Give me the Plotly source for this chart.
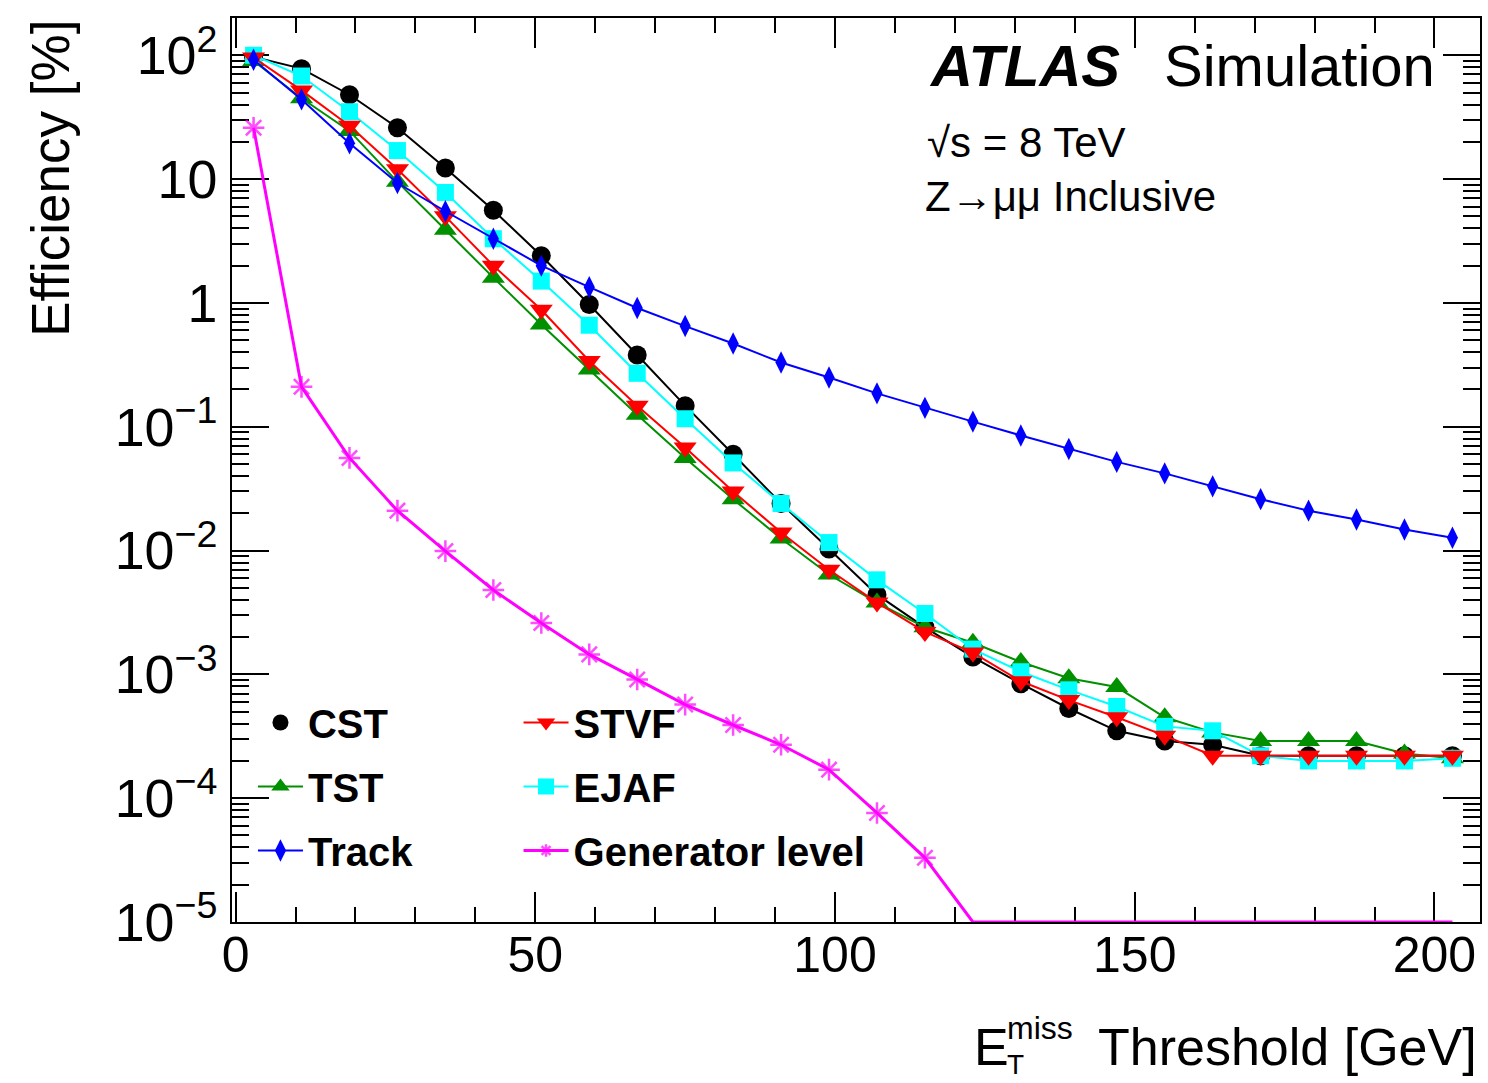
import plotly.graph_objects as go
import math

# ---------------- data ----------------
threshold = [3, 11, 19, 27, 35, 43, 51, 59, 67, 75, 83, 91, 99, 107, 115,
             123, 131, 139, 147, 155, 163, 171, 179, 187, 195, 203]

cst = [97, 78, 48, 26, 12.3, 5.6, 2.4, 0.97, 0.38, 0.148, 0.060, 0.024, 0.0103,
       0.0044, 0.0024, 0.00138, 0.00084, 0.00053, 0.00035, 0.00029, 0.00027,
       0.00022, 0.00022, 0.00022, 0.00022, 0.00022]
tst = [90, 45, 24.5, 9.5, 3.9, 1.6, 0.67, 0.29, 0.125, 0.056, 0.026, 0.0125,
       0.0064, 0.0038, 0.0024, 0.0018, 0.00126, 0.00093, 0.00079, 0.00045,
       0.00034, 0.00029, 0.00029, 0.00029, 0.00023, 0.00021]
stvf = [96, 52, 27, 12, 5.0, 2.0, 0.88, 0.34, 0.148, 0.068, 0.030, 0.014, 0.0070,
        0.0038, 0.0022, 0.0015, 0.00088, 0.00062, 0.00045, 0.00032, 0.00022,
        0.00022, 0.00022, 0.00022, 0.00022, 0.00022]
ejaf = [100, 68, 35, 17, 7.8, 3.3, 1.5, 0.66, 0.27, 0.116, 0.051, 0.024, 0.0116,
        0.0058, 0.0031, 0.0016, 0.00105, 0.00075, 0.00055, 0.00038, 0.00035,
        0.00022, 0.00020, 0.00020, 0.00020, 0.00021]
track = [92, 44, 19.5, 9.3, 5.5, 3.3, 2.0, 1.34, 0.91, 0.65, 0.47, 0.33, 0.25,
         0.186, 0.142, 0.11, 0.085, 0.066, 0.052, 0.042, 0.033, 0.026, 0.021,
         0.0178, 0.0148, 0.0127]
generator = [26, 0.21, 0.056, 0.021, 0.0099, 0.0048, 0.0026, 0.00145, 0.00091,
             0.00057, 0.00039, 0.00027, 0.00017, 0.000076, 0.000033, 0, 0, 0, 0,
             0, 0, 0, 0, 0, 0, 0]

x_range = [-0.6, 207.6]
y_range = [-5, math.log10(200)]
y_floor = 10 ** y_range[0]

FONT = "Liberation Sans, Arial, Helvetica, sans-serif"

# ---------------- figure ----------------
fig = go.Figure()

LW = 2

# CST line (no legend), then CST markers (legend with marker only)
fig.add_trace(go.Scatter(x=threshold, y=cst, mode="lines",
                         line=dict(color="black", width=LW),
                         showlegend=False, hoverinfo="skip", legendgroup="cst"))
fig.add_trace(go.Scatter(x=threshold, y=cst, mode="markers", name="CST",
                         marker=dict(symbol="circle", size=19, color="black"),
                         legend="legend", legendgroup="cst", legendrank=1))
fig.add_trace(go.Scatter(x=threshold, y=tst, mode="lines+markers", name="TST",
                         line=dict(color="#009000", width=LW),
                         marker=dict(symbol="triangle-up", size=20, color="#009000"),
                         legend="legend", legendgroup="tst", legendrank=2))
fig.add_trace(go.Scatter(x=threshold, y=ejaf, mode="lines+markers", name="EJAF",
                         line=dict(color="#00ffff", width=LW),
                         marker=dict(symbol="square", size=17, color="#00ffff"),
                         legend="legend2", legendgroup="ejaf", legendrank=5))
fig.add_trace(go.Scatter(x=threshold, y=stvf, mode="lines+markers", name="STVF",
                         line=dict(color="#ff0000", width=LW),
                         marker=dict(symbol="triangle-down", size=20, color="#ff0000"),
                         legend="legend2", legendgroup="stvf", legendrank=4))
fig.add_trace(go.Scatter(x=threshold, y=track, mode="lines+markers", name="Track",
                         line=dict(color="#0000ff", width=LW),
                         marker=dict(symbol="diamond-tall", size=16, color="#0000ff"),
                         legend="legend", legendgroup="track", legendrank=3))

# Generator level: zero entries are drawn at the bottom of the log axis (as ROOT does)
gen_plot = [v if v > 0 else y_floor for v in generator]
gen_sizes = [18 if v > 0 else 0 for v in generator]
fig.add_trace(go.Scatter(x=threshold, y=gen_plot, mode="lines+markers",
                         name="Generator level",
                         line=dict(color="#ff00ff", width=3),
                         marker=dict(symbol="asterisk-open", size=gen_sizes,
                                     color="#ff00ff",
                                     line=dict(color="#ff00ff", width=2.5)),
                         legend="legend2", legendgroup="gen", legendrank=6))

axis_common = dict(showline=True, linecolor="black", linewidth=2, mirror="ticks",
                   ticks="inside", tickcolor="black", tickwidth=2,
                   showgrid=False, zeroline=False, layer="below traces")

fig.update_xaxes(range=x_range, tick0=0, dtick=50, ticklen=30,
                 minor=dict(ticks="inside", dtick=10, ticklen=15, tickwidth=2,
                            tickcolor="black", showgrid=False),
                 ticklabelstandoff=-12,
                 tickfont=dict(family=FONT, size=50, color="black"),
                 **axis_common)
fig.update_yaxes(type="log", range=y_range, dtick=1, exponentformat="power",
                 ticklen=37,
                 minor=dict(ticks="inside", dtick="D1", ticklen=17, tickwidth=1.5,
                            tickcolor="black", showgrid=False),
                 ticklabelstandoff=4,
                 tickfont=dict(family=FONT, size=43, color="black"),
                 **axis_common)

L, R, T, B = 232, 6, 18, 161
W, H = 1488, 1083
pw, ph = W - L - R, H - T - B


def px(xp):
    return (xp - L) / pw


def py(yp):
    return (H - B - yp) / ph


legend_font = dict(family=FONT, size=40, color="black", weight="bold")
fig.update_layout(
    width=W, height=H,
    margin=dict(l=L, r=R, t=T, b=B, pad=0),
    paper_bgcolor="white", plot_bgcolor="white",
    legend=dict(x=px(253), y=py(690), xanchor="left", yanchor="top",
                bgcolor="rgba(0,0,0,0)", font=legend_font, itemwidth=45,
                tracegroupgap=9, traceorder="grouped"),
    legend2=dict(x=px(519), y=py(690), xanchor="left", yanchor="top",
                 bgcolor="rgba(0,0,0,0)", font=legend_font, itemwidth=45,
                 tracegroupgap=9, traceorder="grouped"),
)

ann = []
# ATLAS Simulation
ann.append(dict(text="<b><i>ATLAS</i></b>", x=px(928), y=py(66), xanchor="left",
                yanchor="middle", font=dict(family=FONT, size=58, color="black")))
ann.append(dict(text="Simulation", x=px(1163), y=py(66), xanchor="left",
                yanchor="middle", font=dict(family=FONT, size=58, color="black")))
ann.append(dict(text="√s = 8 TeV", x=px(926), y=py(142), xanchor="left",
                yanchor="middle", font=dict(family=FONT, size=42, color="black")))
ann.append(dict(text="Z→μμ Inclusive", x=px(924), y=py(197), xanchor="left",
                yanchor="middle", font=dict(family=FONT, size=42, color="black")))
# y-axis title
ann.append(dict(text="Efficiency [%]", textangle=-90, x=px(50), y=py(18),
                xanchor="center", yanchor="top",
                font=dict(family=FONT, size=53, color="black")))
# x-axis title: E_T^miss Threshold [GeV]
ann.append(dict(text="Threshold [GeV]", x=px(1481), y=py(1047), xanchor="right",
                yanchor="middle", font=dict(family=FONT, size=52, color="black")))
ann.append(dict(text="E", x=px(973), y=py(1047), xanchor="left",
                yanchor="middle", font=dict(family=FONT, size=52, color="black")))
ann.append(dict(text="miss", x=px(1006), y=py(1028), xanchor="left",
                yanchor="middle", font=dict(family=FONT, size=32, color="black")))
ann.append(dict(text="T", x=px(1006), y=py(1064), xanchor="left",
                yanchor="middle", font=dict(family=FONT, size=28, color="black")))

for a in ann:
    a.update(xref="paper", yref="paper", showarrow=False)
fig.update_layout(annotations=ann)

fig.write_html("out.html")
